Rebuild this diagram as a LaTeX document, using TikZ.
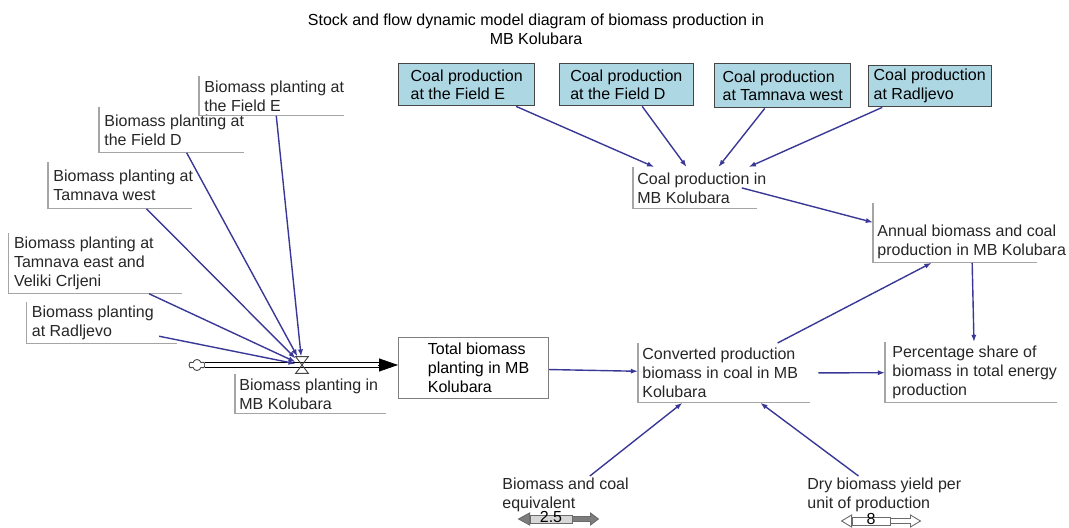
\documentclass[tikz,border=0pt]{standalone}
\usepackage{fontspec}
\setmainfont{Liberation Sans}
\usetikzlibrary{arrows.meta,shapes.symbols}
\definecolor{sfedge}{RGB}{70,70,70}
\definecolor{sfrim}{RGB}{165,165,165}
\definecolor{sfcoal}{RGB}{174,215,228}
\definecolor{sflink}{RGB}{58,56,150}
\definecolor{sfknob}{RGB}{125,125,125}
\definecolor{sfbar}{RGB}{215,215,215}
\newcommand{\vsfont}{\fontsize{8}{9.4}\selectfont}
\tikzset{
  var/.style={
    anchor=north west, align=left, inner xsep=2.5pt, inner ysep=0pt,
    font=\vsfont, text=black!85
  },
  const/.style={var, inner ysep=1pt},
  coal/.style={
    draw=sfedge, fill=sfcoal, line width=0.7pt, anchor=north west,
    align=left, font=\vsfont, inner sep=0pt, minimum height=21pt
  },
  stock/.style={
    draw=sfedge!70, line width=0.55pt, anchor=north west, align=left,
    font=\vsfont, inner sep=0pt, minimum width=75pt, minimum height=30.5pt
  },
  rim/.style={draw=sfrim, line width=0.6pt},
  link/.style={-{Latex[length=3.6pt,width=2.6pt]}, draw=sflink, line width=0.7pt},
  pipe/.style={draw=black, line width=0.45pt, double=white, double distance=2pt},
  flowhead/.style={-{Triangle[length=9.5pt,width=6.5pt]}, draw=black, line width=0.4pt},
  valveline/.style={draw=sfedge, line width=0.45pt},
  bar/.style={
    draw=sfedge!80, line width=0.45pt, inner sep=0pt, font=\vsfont,
    minimum height=4pt, text height=3.2pt, text depth=0pt
  },
  knob/.style={draw=sfedge!80, line width=0.45pt}
}
\begin{document}
\begin{tikzpicture}[x=0.5pt, y=-0.5pt]
  \useasboundingbox (0,0) rectangle (1069,528);
  \node[font=\vsfont, align=center] (ttl) at (536,29)
    {Stock and flow dynamic model diagram of biomass production in\\MB Kolubara};

  \node[coal, minimum width=68pt] (cfe) at (398,63) {Coal production\\at the Field E};
  \node[coal, minimum width=67pt] (cfd) at (558.6,63) {Coal production\\at the Field D};
  \node[coal, minimum width=68pt, minimum height=22pt] (ctw) at (714,63) {Coal production\\at Tamnava west};
  \node[coal, minimum width=61.5pt, minimum height=20.5pt] (crd) at (867.5,65) {Coal production\\at Radljevo};

  \node[var, minimum height=19.5pt] (bfe) at (199,76) {Biomass planting at\\the Field E};
  \node[var, minimum height=22.5pt] (bfd) at (99,107) {Biomass planting at\\the Field D};
  \node[var, minimum height=23pt] (btw) at (48,162) {Biomass planting at\\Tamnava west};
  \node[var, minimum height=30pt] (bte) at (8.6,233) {Biomass planting at\\Tamnava east and\\Veliki Crljeni};
  \node[var, minimum height=20.5pt] (brd) at (26.5,302) {Biomass planting\\at Radljevo};
  \node[var, inner xsep=2pt, minimum height=19.5pt] (bpk) at (235,374) {Biomass planting in\\MB Kolubara};

  \node[var, inner xsep=2pt, minimum height=20.5pt] (cpk) at (633,167) {Coal production in\\MB Kolubara};
  \node[var, inner xsep=2pt, minimum height=20.5pt] (abc) at (873,221) {Annual biomass and coal\\production in MB Kolubara};
  \node[var, inner xsep=2pt, minimum height=29.5pt] (conv) at (638,343) {Converted production\\biomass in coal in MB\\Kolubara};
  \node[var, inner xsep=3.5pt, minimum height=30pt] (pct) at (885,342) {Percentage share of\\biomass in total energy\\production};

  \node[stock] (tot) at (398,337) {\hspace*{5pt}Total biomass\\\hspace*{5pt}planting in MB\\\hspace*{5pt}Kolubara};

  \node[const] (eqv) at (497,476) {Biomass and coal\\equivalent};
  \node[const] (dry) at (802,476) {Dry biomass yield per\\unit of production};

  \node[cloud, draw=sfedge, line width=0.45pt, cloud puffs=6, aspect=1.6,
        minimum width=8pt, minimum height=5.5pt, inner sep=0pt] (cld) at (197,365) {};
  \node[inner sep=0pt, minimum width=6pt, minimum height=8pt] (valve) at (302,365) {};
  \coordinate (tip) at (cld.east -| tot.west);

  \foreach \n/\w in {bfe/145, bfd/145, btw/144, bte/173, brd/150, bpk/151,
                     cpk/124, conv/172, pct/172}
    \draw[rim] (\n.north west) -- (\n.south west) -- ++(\w,0);
  \draw[rim] ([yshift=9pt]abc.north west) -- (abc.south west) -- ++(164,0);

  \draw[pipe, shorten >=9pt] (cld.east) -- (tip);
  \draw[flowhead] ([xshift=-10pt]tip) -- (tip);
  \draw[valveline] (valve.north west) -- (valve.north east) -- (valve.south west)
    -- (valve.south east) -- cycle;

  \foreach \n in {bfe, bfd, btw, bte, brd}
    \draw[link] (\n) -- (valve);
  \foreach \n in {cfe, cfd, ctw, crd}
    \draw[link] (\n) -- (cpk);
  \draw[link] ([xshift=-14.5pt]cpk.east) -- ([yshift=9.75pt]abc.west);
  \draw[link] (tot) -- (conv);
  \draw[link] (conv) -- (abc);
  \draw[link] (abc) -- (pct);
  \draw[link] ([xshift=8pt]conv.east) -- (pct);
  \draw[link] (eqv) -- (conv);
  \draw[link] (dry) -- (conv);

  \node[bar, fill=sfbar, minimum width=21pt] (sla) at (551,519) {2.5};
  \filldraw[knob, fill=sfknob] (sla.west) -- ++(0,-6) -- ++(-11,6) -- ++(11,6) -- cycle;
  \filldraw[knob, fill=sfknob] (sla.east) ++(0,-2.5) -- ++(18,0) -- ++(0,-3.5)
    -- ++(8,6) -- ++(-8,6) -- ++(0,-3.5) -- ++(-18,0) -- cycle;
  \node[bar, fill=white, minimum width=19pt] (slb) at (871,521) {8};
  \filldraw[knob, fill=white] (slb.west) -- ++(0,-6) -- ++(-10,6) -- ++(10,6) -- cycle;
  \filldraw[knob, fill=white] (slb.east) ++(0,-2.5) -- ++(20,0) -- ++(0,-3.5)
    -- ++(10,6) -- ++(-10,6) -- ++(0,-3.5) -- ++(-20,0) -- cycle;
\end{tikzpicture}
\end{document}
